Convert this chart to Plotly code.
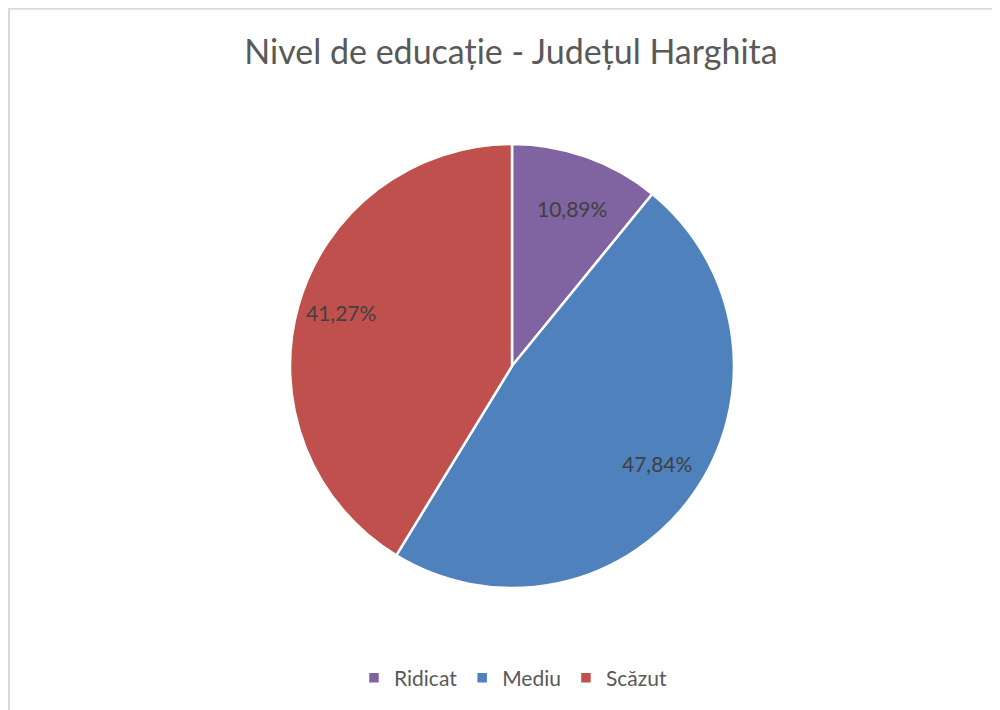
import math
import plotly.graph_objects as go

labels = ["Ridicat", "Mediu", "Scăzut"]
values = [10.89, 47.84, 41.27]
colors = ["#8064A2", "#4F81BD", "#C0504D"]

FONT = "Lato, 'Open Sans', sans-serif"

# page is drawn with an 8px body margin, so size the figure to fit the window
W, H = 992, 702
CX, CY, R = 504, 358, 222  # pie centre and radius in figure pixels

dom_x = [(CX - R) / W, (CX + R) / W]
dom_y = [1 - (CY + R) / H, 1 - (CY - R) / H]

fig = go.Figure(go.Pie(
    labels=labels,
    values=values,
    sort=False,
    direction="clockwise",
    rotation=0,
    marker=dict(colors=colors, line=dict(color="white", width=2.5)),
    textinfo="none",
    hoverinfo="label+percent",
    domain=dict(x=dom_x, y=dom_y),
))

# data labels at ~0.80 of the radius, on each slice's mid-angle
total = sum(values)
start = 0.0
for v in values:
    mid = (start + v / 2) / total * 2 * math.pi
    start += v
    rr = 0.80 * R
    fig.add_annotation(
        x=(CX + rr * math.sin(mid)) / W,
        y=1 - (CY - rr * math.cos(mid)) / H,
        xref="paper", yref="paper",
        text=f"{v:.2f}%".replace(".", ","),
        showarrow=False, yshift=5,
        font=dict(family=FONT, size=21, color="#404040"),
    )

fig.add_shape(type="rect", xref="paper", yref="paper",
              x0=0.001, x1=1.05, y0=-0.05, y1=0.999,
              line=dict(color="#D9D9D9", width=2))

fig.update_layout(
    width=W, height=H,
    margin=dict(l=0, r=0, t=0, b=0),
    paper_bgcolor="white",
    title=dict(text="Nivel de educație - Județul Harghita",
               x=(511 - 8) / W, xanchor="center", y=1 - 44 / H, yanchor="middle",
               font=dict(family=FONT, size=34, color="#595959")),
    legend=dict(orientation="h", x=(513 - 8) / W, xanchor="center",
                y=1 - 670 / H, yanchor="middle",
                font=dict(family=FONT, size=21, color="#595959"),
                itemwidth=30, traceorder="normal"),
    showlegend=True,
)

fig.write_html("out.html")
